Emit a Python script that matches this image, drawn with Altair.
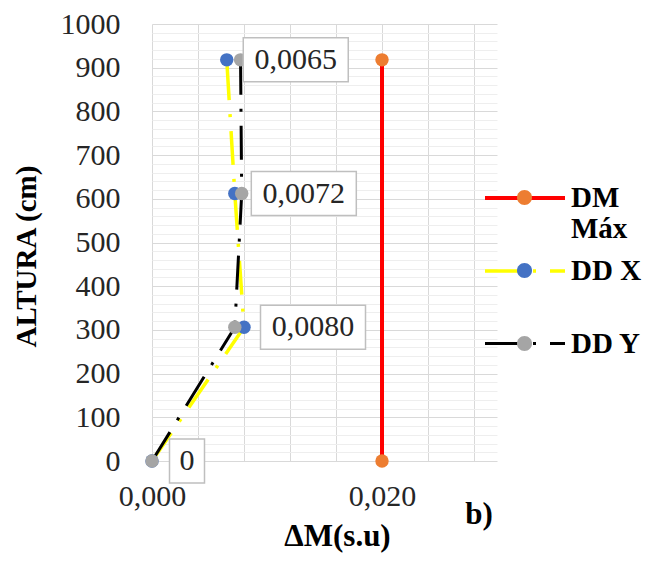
import altair as alt
import pandas as pd

# ---- data ----
heights = [0, 306, 612, 918]
dm_heights = [0, 918]
dm_values = [0.020, 0.020]
ddx_values = [0.0, 0.0080, 0.0072, 0.0065]
ddy_values = [0.0, 0.0072, 0.0078, 0.0077]
series_names = ["DM Máx", "DD X", "DD Y"]
line_colors = ["#ff0000", "#ffff00", "#000000"]
marker_colors = ["#ed7d31", "#4472c4", "#a5a5a5"]
line_widths = [4, 3, 3.5]
dash_styles = [[1, 0], [34, 14, 3, 14], [34, 14, 3, 14]]
x_grid_values = [0.0, 0.004, 0.008, 0.012, 0.016, 0.020, 0.024, 0.028]
y_grid_values = list(range(0, 1001, 20))

rows = []
for h, v in zip(dm_heights, dm_values):
    rows.append({"series": "DM Máx", "h": h, "v": v})
for h, v in zip(heights, ddx_values):
    rows.append({"series": "DD X", "h": h, "v": v})
for h, v in zip(heights, ddy_values):
    rows.append({"series": "DD Y", "h": h, "v": v})
df = pd.DataFrame(rows)

labels = ["0" if v == 0 else f"{v:.4f}".replace(".", ",") for v in ddx_values]
lab_df = pd.DataFrame({"h": heights, "v": ddx_values, "label": labels})
lab_df["wide"] = lab_df["label"].str.len() > 1

SERIF = "Liberation Serif"

X = alt.X(
    "v:Q",
    scale=alt.Scale(domain=[0, 0.03], nice=False, zero=False),
    axis=alt.Axis(
        values=x_grid_values,
        labelExpr="(abs(datum.value) < 1e-9 || abs(datum.value - 0.02) < 1e-9) ? replace(format(datum.value, '.3f'), '.', ',') : ''",
        labelFlush=False,
        labelOverlap=False,
        grid=True,
        gridColor="#d9d9d9",
        domain=False,
        ticks=False,
        tickSize=0,
        labelFont=SERIF,
        labelFontSize=30,
        labelColor="#262626",
        labelPadding=20,
        labelBaseline="top",
        title="ΔM(s.u)",
        titleFont=SERIF,
        titleFontSize=31,
        titleFontWeight="bold",
        titleColor="#000000",
        titleX=185,
        titleY=75,
        titleBaseline="middle",
        titleAlign="center",
    ),
)
Y = alt.Y(
    "h:Q",
    scale=alt.Scale(domain=[0, 1000], nice=False),
    axis=alt.Axis(
        values=y_grid_values,
        format="d",
        labelExpr="datum.value % 100 == 0 ? datum.label : ''",
        labelOverlap=False,
        grid=True,
        gridColor={"condition": {"test": "datum.value % 100 == 0", "value": "#d9d9d9"}, "value": "#eeeeee"},
        domain=False,
        ticks=False,
        tickSize=0,
        labelFont=SERIF,
        labelFontSize=30,
        labelColor="#262626",
        labelPadding=32,
        title="ALTURA (cm)",
        titleFont=SERIF,
        titleFontSize=29,
        titleFontWeight="bold",
        titleColor="#000000",
        titleX=-126,
        titleY=232,
        titleBaseline="middle",
        titleAlign="center",
    ),
)

# legend symbols are custom paths: an 80px line and a 15px circle, both at size 1600
line_path = "M-2,0L2,0"
circle_path = "M-0.375,0A0.375,0.375,0,1,0,0.375,0A0.375,0.375,0,1,0,-0.375,0Z"

legend_common = dict(
    orient="none",
    legendX=351,
    legendY=152,
    direction="vertical",
    title=None,
    padding=0,
    symbolSize=1600,
    symbolStrokeWidth=3,
    labelFont=SERIF,
    labelFontSize=29,
    labelFontWeight="bold",
    labelOffset=24,
    rowPadding=5,
    labelExpr="datum.label == 'DM Máx' ? ['DM', 'Máx'] : [datum.label, ' ']",
)

line_legend = alt.Legend(symbolType=line_path, labelColor="#000000", symbolFillColor="transparent", **legend_common)
fill_legend = alt.Legend(
    symbolType=circle_path,
    labelColor="transparent",
    symbolStrokeColor="transparent",
    **legend_common,
)

lines = alt.Chart(df).mark_line().encode(
    x=X,
    y=Y,
    stroke=alt.Stroke("series:N", scale=alt.Scale(domain=series_names, range=line_colors), legend=line_legend),
    strokeDash=alt.StrokeDash("series:N", scale=alt.Scale(domain=series_names, range=dash_styles), legend=line_legend),
    strokeWidth=alt.StrokeWidth("series:N", scale=alt.Scale(domain=series_names, range=line_widths), legend=None),
    order=alt.Order("h:Q"),
)

points = alt.Chart(df).mark_point(filled=True, size=180, opacity=1).encode(
    x=X,
    y=Y,
    fill=alt.Fill("series:N", sort=series_names, scale=alt.Scale(range=marker_colors), legend=fill_legend),
)

box_wide = alt.Chart(lab_df).transform_filter("datum.wide").mark_rect(
    width=105, height=44, xOffset=69, fill="white", stroke="#bfbfbf", strokeWidth=1.5
).encode(x=X, y=Y)
box_narrow = alt.Chart(lab_df).transform_filter("!datum.wide").mark_rect(
    width=35, height=44, xOffset=35, fill="white", stroke="#bfbfbf", strokeWidth=1.5
).encode(x=X, y=Y)
text_wide = alt.Chart(lab_df).transform_filter("datum.wide").mark_text(
    font=SERIF, fontSize=30, color="#262626", xOffset=69, align="center", baseline="middle"
).encode(x=X, y=Y, text="label:N")
text_narrow = alt.Chart(lab_df).transform_filter("!datum.wide").mark_text(
    font=SERIF, fontSize=30, color="#262626", xOffset=35, align="center", baseline="middle"
).encode(x=X, y=Y, text="label:N")

tag = alt.Chart(pd.DataFrame({"t": ["b)"]})).mark_text(
    font=SERIF, fontSize=31, fontWeight="bold", color="#000000", align="center", baseline="middle"
).encode(x=alt.value(327), y=alt.value(491), text="t:N")

chart = alt.layer(lines, points, box_wide, box_narrow, text_wide, text_narrow, tag).properties(
    width=345,
    height=437,
    autosize=alt.AutoSizeParams(type="none"),
    padding={"left": 144, "top": 16, "right": 147, "bottom": 92},
    background="white",
).configure_view(stroke=None)

chart.save("out.html", embed_options={"renderer": "svg", "actions": False})
